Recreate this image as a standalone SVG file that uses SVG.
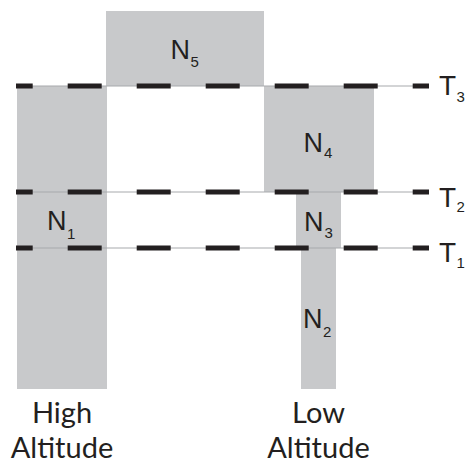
<svg xmlns="http://www.w3.org/2000/svg" width="466" height="463" viewBox="0 0 466 463">
<style>
.box{fill:#c8c9cb}
.thin{stroke:#a7a9ac;stroke-width:1}
.dash{stroke:#231f20;stroke-width:5;stroke-dasharray:34 35;stroke-dashoffset:17.3}
.lbl{font-family:"Liberation Sans",Arial,sans-serif;font-size:27px;fill:#231f20}
.sub{font-size:15px}
.tl{font-family:"Liberation Sans",Arial,sans-serif;font-size:28px;fill:#231f20}
.alt{font-family:Lato,"Open Sans",sans-serif;font-size:29px;fill:#231f20;text-anchor:middle}
</style>
<g id="N5"><rect class="box" x="106" y="11" width="158" height="75"/><text class="lbl" x="170.5" y="58.5">N<tspan class="sub" x="190.5" y="66.5">5</tspan></text></g>
<g id="N1"><rect class="box" x="17" y="86" width="90" height="303"/><text class="lbl" x="47" y="229.5">N<tspan class="sub" x="67" y="239">1</tspan></text></g>
<g id="N4"><rect class="box" x="264" y="86" width="110" height="106"/><text class="lbl" x="303.5" y="151.5">N<tspan class="sub" x="324" y="157.5">4</tspan></text></g>
<g id="N3"><rect class="box" x="296" y="192" width="45" height="56"/><text class="lbl" x="304" y="230.5">N<tspan class="sub" x="324.5" y="237.5">3</tspan></text></g>
<g id="N2"><rect class="box" x="301" y="248" width="35" height="141"/><text class="lbl" x="303" y="327.5">N<tspan class="sub" x="323" y="336.5">2</tspan></text></g>
<g id="connectors">
<line class="thin" x1="16" y1="86" x2="429" y2="86"/>
<line class="thin" x1="16" y1="192" x2="429" y2="192"/>
<line class="thin" x1="16" y1="248" x2="429" y2="248"/>
<line class="dash" x1="16" y1="86" x2="429" y2="86"/>
<line class="dash" x1="16" y1="192" x2="429" y2="192"/>
<line class="dash" x1="16" y1="248" x2="429" y2="248"/>
</g>
<g id="T3"><text class="tl" x="439" y="95">T<tspan class="sub" x="456.5" y="101.5">3</tspan></text></g>
<g id="T2"><text class="tl" x="439" y="206.5">T<tspan class="sub" x="456.5" y="211.5">2</tspan></text></g>
<g id="T1"><text class="tl" x="439" y="262">T<tspan class="sub" x="456.5" y="267.5">1</tspan></text></g>
<g id="high"><text class="alt" x="62" y="423">High</text><text class="alt" x="62" y="458">Altitude</text></g>
<g id="low"><text class="alt" x="318.5" y="423">Low</text><text class="alt" x="318.5" y="458">Altitude</text></g>
</svg>
